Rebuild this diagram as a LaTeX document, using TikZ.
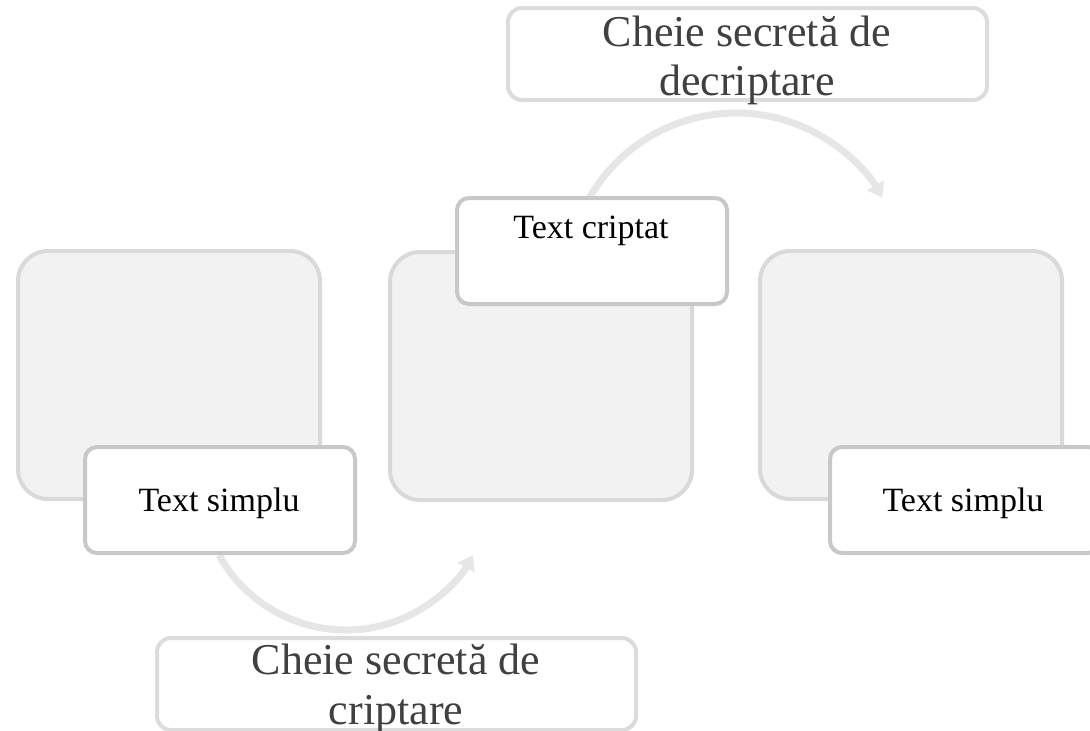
\documentclass[tikz,border=0pt]{standalone}
\usepackage{fontspec}
\setmainfont{Liberation Serif}
\usetikzlibrary{arrows.meta,calc}
\definecolor{panelfill}{HTML}{F2F2F2}
\definecolor{panelline}{HTML}{D9D9D9}
\definecolor{tagline}{HTML}{C8C8C8}
\definecolor{keyline}{HTML}{DCDCDC}
\definecolor{keyink}{HTML}{404040}
\definecolor{flowline}{HTML}{E6E6E6}
\tikzset{
  panel/.style={draw=panelline, fill=panelfill, line width=4pt, rounded corners=30pt,
    minimum width=302pt, minimum height=248pt, inner sep=0pt},
  tagbox/.style={draw=tagline, fill=white, line width=4pt, rounded corners=12pt,
    minimum width=270pt, minimum height=106pt, inner sep=0pt},
  keybox/.style={draw=keyline, fill=white, line width=4pt, rounded corners=14pt,
    minimum width=479pt, minimum height=92pt, inner sep=0pt},
  tagtext/.style={font=\fontsize{34pt}{38pt}\selectfont, text=black, inner sep=0pt, anchor=base},
  keytext/.style={font=\fontsize{44pt}{50pt}\selectfont, text=keyink, inner sep=0pt, anchor=base},
  flow/.style={draw=flowline, line width=7pt,
    -{Triangle[length=14pt, width=19pt, fill=flowline]}}
}
\begin{document}
\begin{tikzpicture}[x=1pt, y=-1pt]
  \useasboundingbox (0,0) rectangle (1090,731);
  \clip (0,0) rectangle (1090,731);

  % three stage panels
  \node[panel] (p1) at (169,375) {};
  \node[panel] (p2) at (541,376) {};
  \node[panel] (p3) at (911,375) {};

  % curved flow arrows (drawn beneath the tags)
  \coordinate (encstart) at ($(346,485)+(151:145)$);
  \coordinate (decstart) at ($(736,282)+(210:169)$);
  \draw[flow] (encstart) arc[start angle=151, end angle=29, radius=145];
  \draw[flow] (decstart) arc[start angle=210, end angle=330, radius=169];

  % tags on the panels
  \node[tagbox] (t1) at (220,500) {};
  \node[tagtext] (l1) at (219,511) {Text simplu};
  \node[tagbox] (t2) at (592,251) {};
  \node[tagtext] (l2) at (591,238) {Text criptat};
  \node[tagbox] (t3) at (965,500) {};
  \node[tagtext] (l3) at (963,511) {Text simplu};

  % key boxes
  \node[keybox] (kd) at (747.5,54) {};
  \node[keytext] (kd1) at (747,46) {Cheie secretă de};
  \node[keytext] (kd2) at (747,95) {decriptare};
  \node[keybox] (ke) at (396.5,684) {};
  \node[keytext] (ke1) at (396,674) {Cheie secretă de};
  \node[keytext] (ke2) at (396,724) {criptare};
\end{tikzpicture}
\end{document}
